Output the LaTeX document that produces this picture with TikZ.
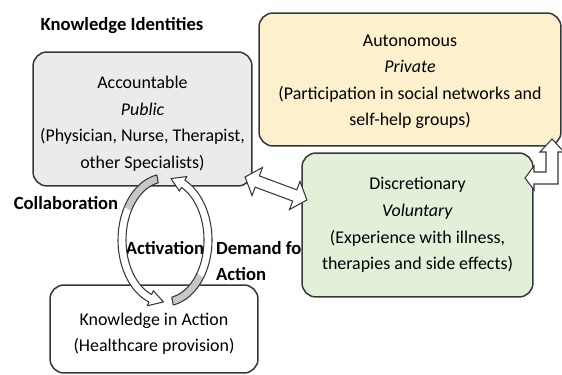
\documentclass[tikz,border=0pt]{standalone}
\usepackage{fontspec}
\setmainfont{Carlito}
\usetikzlibrary{positioning}
\colorlet{knline}{black!78}
\colorlet{knaccfill}{black!8}
\definecolor{knautfill}{HTML}{FDF0CD}
\definecolor{kndisfill}{HTML}{E2EFD9}
\colorlet{knshade}{black!22}
\tikzset{
  knstage/.style={
    rounded corners=8pt,
    draw=knline,
    line width=0.85pt,
    inner sep=0pt
  },
  kntext/.style={align=center,inner sep=1pt,font=\fontsize{10.2}{15.1}\selectfont},
  knacc/.style={knstage,fill=knaccfill},
  knaut/.style={knstage,fill=knautfill},
  kndis/.style={knstage,fill=kndisfill},
  knact/.style={knstage,fill=white},
  knlabel/.style={font=\fontsize{10.6}{15.1}\selectfont\bfseries,inner sep=1pt},
  knblock/.style={draw=knline,line width=0.6pt,fill=white,line join=miter},
  knring/.style={draw=knline,line width=0.6pt,line join=round}
}

\begin{document}
\begin{tikzpicture}[x=0.02cm,y=0.02cm]
  \useasboundingbox (0,0) rectangle (562,375);
  \node[knlabel] (title) at (122,349) {Knowledge Identities};
  \node[knacc,minimum width=4.38cm,minimum height=2.68cm] (acc) at (142.5,256) {};
  \node[kntext] (acctext) at ([yshift=-2.8pt]acc.center)
    {Accountable\\\textit{Public}\\(Physician, Nurse, Therapist,\\other Specialists)};
  \node[knaut,minimum width=6.04cm,minimum height=2.66cm] (aut) at (410,295.5) {};
  \node[kntext] (auttext) at ([yshift=-1.4pt]aut.center)
    {Autonomous\\\textit{Private}\\(Participation in social networks and\\self-help groups)};
  \node[knact,minimum width=4.16cm,minimum height=1.76cm] (kia) at (154,46) {};
  \node[kntext] (kiatext) at ([yshift=-2.8pt]kia.center)
    {Knowledge in Action\\(Healthcare provision)};

  \node[knlabel] (collab) at (66,172) {Collaboration};
  \node[knlabel] (activ) at (165,127) {Activation};
  \node[knlabel,align=left,anchor=west] (demand) at (214,114) {Demand for\\Action};

  \node[kndis,minimum width=4.62cm,minimum height=2.88cm] (dis) at (417.5,150) {};
  \node[kntext] (distext) at (dis.center)
    {Discretionary\\\textit{Voluntary}\\(Experience with illness,\\therapies and side effects)};

  % cycle between acc and kia
  \def\knleft{plot[domain=100:250,samples=40] ({165+47*cos(\x)},{135+66*sin(\x)})
    -- ({165+52*cos(250)},{135+70*sin(250)}) -- ({165+43*cos(268)},{135+62*sin(268)})
    -- ({165+34*cos(250)},{135+54*sin(250)})
    -- plot[domain=250:100,samples=40] ({165+39*cos(\x)},{135+58*sin(\x)}) -- cycle}
  \def\knright{plot[domain=-80:65,samples=40] ({165+47*cos(\x)},{135+66*sin(\x)})
    -- ({165+52*cos(65)},{135+70*sin(65)}) -- ({165+43*cos(82)},{135+62*sin(82)})
    -- ({165+34*cos(65)},{135+54*sin(65)})
    -- plot[domain=65:-80,samples=40] ({165+39*cos(\x)},{135+58*sin(\x)}) -- cycle}
  \fill[white] \knleft;
  \fill[white] \knright;
  \fill[knshade] plot[domain=100:150,samples=20] ({165+47*cos(\x)},{135+66*sin(\x)})
    -- plot[domain=150:100,samples=20] ({165+39*cos(\x)},{135+58*sin(\x)}) -- cycle;
  \fill[knshade] plot[domain=-80:-35,samples=20] ({165+47*cos(\x)},{135+66*sin(\x)})
    -- plot[domain=-35:-80,samples=20] ({165+39*cos(\x)},{135+58*sin(\x)}) -- cycle;
  \draw[knring] \knleft;
  \draw[knring] \knright;

  % acc <-> dis
  \begin{scope}[shift={(276,186.5)},rotate=-20.4]
    \draw[knblock] (-33,0) -- (-20,15) -- (-20,6) -- (20,6) -- (20,15) -- (33,0)
      -- (20,-15) -- (20,-6) -- (-20,-6) -- (-20,-15) -- cycle;
  \end{scope}

  % dis <-> aut
  \draw[knblock] (525,197) -- (534,209) -- (534,203) -- (546,203) -- (546,223)
    -- (540,223) -- (552,236) -- (564,223) -- (558,223) -- (558,191)
    -- (534,191) -- (534,185) -- cycle;
\end{tikzpicture}
\end{document}
